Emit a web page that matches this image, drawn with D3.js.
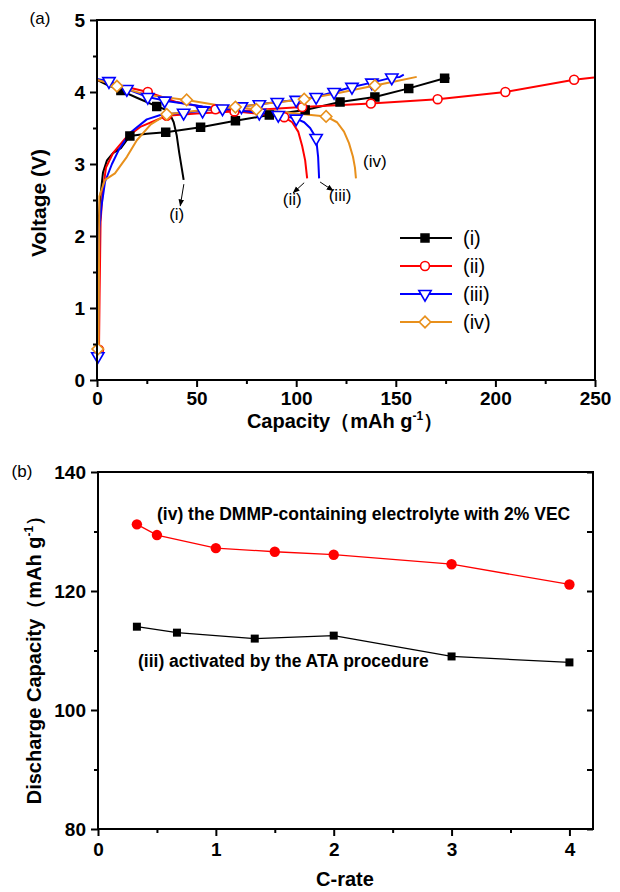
<!DOCTYPE html>
<html>
<head>
<meta charset="utf-8">
<script src="https://cdn.jsdelivr.net/npm/d3@7"></script>
<style>
  body { margin: 0; background: #fff; }
  svg { font-family: "Liberation Sans", Arial, sans-serif; }
</style>
</head>
<body>
<div id="chart"></div>
<script>
// (a) charge / discharge curves, points are [capacity, voltage, marker]
const chargeI = [[0,1.8],[0.5,2.05],[1.5,2.5],[3,2.88],[5,3.05],[8,3.15],[12,3.22],[16.5,3.39,1],[25,3.42],[34.5,3.44,1],[52,3.51,1],[69.5,3.6,1],[86.5,3.68,1],[104.5,3.75,1],[122,3.86,1],[139.5,3.93,1],[156.5,4.05,1],[174.5,4.19,1],[177,4.19]];
const dischargeI = [[0,4.17],[5,4.1],[12,4.02,1],[20,3.92],[30,3.8,1],[34,3.76],[36.5,3.7],[38.5,3.58],[40,3.4],[41.3,3.15],[42.5,2.95],[43.5,2.78]];

const chargeII = [[0,0.3],[1,0.42,1],[1.3,1.2],[1.8,2.2],[2.8,2.6],[4.5,2.95],[8,3.15],[14,3.35],[22,3.52],[35,3.67,1],[50,3.7],[69,3.73,1],[85,3.76],[103,3.79,1],[137.5,3.84,1],[171,3.9,1],[205,4.0,1],[239.5,4.17,1],[249.5,4.2]];
const dischargeII = [[0,4.17],[10,4.1],[25.5,4.0,1],[40,3.86],[59.5,3.76,1],[80,3.7],[94,3.65,1],[98,3.58],[101,3.45],[103,3.25],[104.5,3.05],[105.5,2.8]];

const chargeIII = [[0,0.28],[0.4,0.33,1],[0.8,1.2],[1.2,2.1],[2.2,2.4],[4,2.75],[7.5,3.0],[11,3.2],[16.5,3.43],[25,3.62],[33,3.69],[43.5,3.71,1],[53,3.74,1],[63,3.77,1],[72.5,3.8,1],[81.5,3.83,1],[90.5,3.86,1],[100,3.89,1],[110,3.93,1],[119,4.0,1],[128,4.07,1],[138,4.13,1],[148,4.2,1],[152,4.21],[154,4.24]];
const dischargeIII = [[0,4.18],[6,4.15,1],[15,4.04,1],[25.5,3.93,1],[34,3.88,1],[43.5,3.84],[53,3.8],[62.5,3.77],[72,3.74],[81.5,3.71,1],[91,3.68,1],[100,3.63,1],[104,3.58],[107,3.5],[110,3.36,1],[111,3.1],[111.5,2.8]];

const chargeIV = [[0,0.35],[0.4,0.43,1],[0.8,0.45],[1,1.5],[1.2,2.55],[4,2.78],[9,2.87],[15,3.1],[20,3.33],[27,3.55],[35,3.69,1],[50,3.74],[69.5,3.79,1],[85,3.84],[104,3.9,1],[120,3.98],[139.5,4.09,1],[150,4.15],[160.5,4.21]];
const dischargeIV = [[0,4.17],[5,4.13],[10,4.08,1],[25,3.96],[45,3.89,1],[60,3.82],[80,3.76,1],[100,3.7],[115,3.66,1],[120.5,3.58],[124,3.45],[126.5,3.29],[128.5,3.1],[129.5,2.95],[130,2.8]];

const seriesNames = ['(i)', '(ii)', '(iii)', '(iv)'];
const capTicks = [0, 50, 100, 150, 200, 250], capMinor = [25, 75, 125, 175, 225];
const voltTicks = [0, 1, 2, 3, 4, 5], voltMinor = [0.5, 1.5, 2.5, 3.5, 4.5];

// (b) discharge capacity vs C-rate
const rateIV = [0.33, 0.5, 1, 1.5, 2, 3, 4];
const capacityIV = [131.2, 129.4, 127.2, 126.6, 126.1, 124.5, 121.1];
const rateIII = [0.33, 0.67, 1.33, 2, 3, 4];
const capacityIII = [114.0, 113.0, 112.0, 112.5, 109.0, 108.0];
const rateTicks = [0, 1, 2, 3, 4], rateMinor = [0.5, 1.5, 2.5, 3.5];
const dcTicks = [80, 100, 120, 140], dcMinor = [90, 110, 130];

const svg = d3.select('#chart').append('svg')
    .attr('width', 620)
    .attr('height', 892);

// arrow head for the annotations
svg.append('defs').append('marker')
    .attr('id', 'arrow')
    .attr('viewBox', '0 0 10 10')
    .attr('refX', 9).attr('refY', 5)
    .attr('markerWidth', 7).attr('markerHeight', 7)
    .attr('orient', 'auto')
    .append('path')
    .attr('d', 'M0,1L10,5L0,9Z')
    .attr('fill', '#000');

function sym(shape) {
    if (shape === 'square') return d3.symbol(d3.symbolSquare, 62)();
    if (shape === 'circle') return d3.symbol(d3.symbolCircle, 62)();
    if (shape === 'triangle') return d3.symbol(d3.symbolTriangle, 66)();
    return d3.symbol(d3.symbolSquare, 66)(); // diamond = rotated square
}
function symRotate(shape) {
    return shape === 'triangle' ? 180 : shape === 'diamond' ? 45 : 0;
}

// axes with major/minor ticks + box frame
function drawFrame(g, x, y, opt) {
    let [x0, x1] = x.range(), [y0, y1] = y.range();

    let ax = g.append('g').attr('transform', `translate(0,${y0})`);
    ax.call(d3.axisBottom(x).tickValues(opt.xTicks).tickSize(7).tickPadding(opt.xPad).tickFormat(d3.format('d')));
    let axm = g.append('g').attr('transform', `translate(0,${y0})`)
        .call(d3.axisBottom(x).tickValues(opt.xMinor).tickSize(4).tickFormat(''));

    let ay = g.append('g').attr('transform', `translate(${x0},0)`);
    ay.call(d3.axisLeft(y).tickValues(opt.yTicks).tickSize(7).tickPadding(5).tickFormat(d3.format('d')));
    let aym = g.append('g').attr('transform', `translate(${x0},0)`)
        .call(d3.axisLeft(y).tickValues(opt.yMinor).tickSize(4).tickFormat(''));

    [ax, ay].forEach(a => a.selectAll('text')
        .style('font-size', '19px').style('font-weight', 'bold').attr('fill', '#000'));
    [ax, axm, ay, aym].forEach(a => {
        a.select('.domain').remove();
        a.selectAll('line').attr('stroke', '#000').attr('stroke-width', 2);
    });

    if (opt.rightTicks) {
        g.append('g').attr('transform', `translate(${x1},0)`)
            .call(d3.axisLeft(y).tickValues(opt.yTicks.concat(opt.yMinor)).tickSize(6).tickFormat(''))
            .call(a => a.select('.domain').remove())
            .selectAll('line').attr('stroke', '#000').attr('stroke-width', 2);
    }

    g.append('rect')
        .attr('x', x0).attr('y', y1)
        .attr('width', x1 - x0).attr('height', y0 - y1)
        .attr('fill', 'none').attr('stroke', '#000').attr('stroke-width', 2);
}

function unitTitle(g, label, x, y, rotate) {
    let t = g.append('text')
        .attr('transform', `translate(${x},${y})` + (rotate ? 'rotate(-90)' : ''))
        .attr('text-anchor', 'middle')
        .style('font-size', '20px').style('font-weight', 'bold');
    t.append('tspan').text(label + '（mAh g');
    t.append('tspan').attr('dy', -8).style('font-size', '12px').text('-1');
    t.append('tspan').attr('dy', 8).text('）');
    return t;
}

// ---------- panel (a) ----------
const xA = d3.scaleLinear([0, 250], [97, 595]);
const yA = d3.scaleLinear([0, 5], [380, 20]);
const gA = svg.append('g');

const seriesA = [
    { name: seriesNames[0], color: '#000000', shape: 'square', filled: true, curves: [chargeI, dischargeI] },
    { name: seriesNames[1], color: '#FF0000', shape: 'circle', filled: false, curves: [chargeII, dischargeII] },
    { name: seriesNames[2], color: '#0000FF', shape: 'triangle', filled: false, curves: [chargeIII, dischargeIII] },
    { name: seriesNames[3], color: '#E8901C', shape: 'diamond', filled: false, curves: [chargeIV, dischargeIV] }
];

const lineA = d3.line().x(d => xA(d[0])).y(d => yA(d[1]));

seriesA.forEach(s => {
    s.curves.forEach(c => {
        gA.append('path')
            .attr('d', lineA(c))
            .attr('fill', 'none')
            .attr('stroke', s.color)
            .attr('stroke-width', 2)
            .attr('stroke-linejoin', 'round');
    });
});
seriesA.forEach(s => {
    let pts = s.curves.flat().filter(d => d[2]);
    gA.selectAll(null).data(pts).join('path')
        .attr('d', sym(s.shape))
        .attr('transform', d => `translate(${xA(d[0])},${yA(d[1])})rotate(${symRotate(s.shape)})`)
        .attr('fill', s.filled ? s.color : '#fff')
        .attr('stroke', s.color)
        .attr('stroke-width', 1.6);
});

drawFrame(gA, xA, yA, { xTicks: capTicks, xMinor: capMinor, yTicks: voltTicks, yMinor: voltMinor, xPad: 5 });

// annotations at the end of each discharge curve
const notes = [
    { text: '(i)', at: [40, 2.22], from: [43.6, 2.72], to: [41.8, 2.42] },
    { text: '(ii)', at: [98, 2.43], from: [104, 2.74], to: [98.5, 2.6] },
    { text: '(iii)', at: [122, 2.49], from: [112, 2.75], to: [118.5, 2.63] },
    { text: '(iv)', at: [139.5, 2.96] }
];
notes.forEach(n => {
    if (n.from) {
        gA.append('line')
            .attr('x1', xA(n.from[0])).attr('y1', yA(n.from[1]))
            .attr('x2', xA(n.to[0])).attr('y2', yA(n.to[1]))
            .attr('stroke', '#000').attr('stroke-width', 1)
            .attr('marker-end', 'url(#arrow)');
    }
    gA.append('text')
        .attr('x', xA(n.at[0])).attr('y', yA(n.at[1]))
        .attr('text-anchor', 'middle')
        .style('font-size', '17px')
        .text(n.text);
});

// legend
const legend = gA.append('g').attr('transform', 'translate(400,238)');
seriesA.forEach((s, i) => {
    let row = legend.append('g').attr('transform', `translate(0,${i * 28})`);
    row.append('line').attr('x1', 0).attr('x2', 52)
        .attr('stroke', s.color).attr('stroke-width', 2);
    row.append('path')
        .attr('d', sym(s.shape))
        .attr('transform', `translate(25,0)rotate(${symRotate(s.shape)})`)
        .attr('fill', s.filled ? s.color : '#fff')
        .attr('stroke', s.color).attr('stroke-width', 1.6);
    row.append('text').attr('x', 63).attr('dy', '0.35em')
        .style('font-size', '20px').text(s.name);
});

gA.append('text').attr('x', 40).attr('y', 24).attr('text-anchor', 'middle')
    .style('font-size', '17px').text('(a)');
gA.append('text')
    .attr('transform', 'translate(46,203)rotate(-90)')
    .attr('text-anchor', 'middle')
    .style('font-size', '21px').style('font-weight', 'bold')
    .text('Voltage (V)');
unitTitle(gA, 'Capacity', 345, 428, false);

// ---------- panel (b) ----------
const xB = d3.scaleLinear([0, 4.2], [98, 593]);
const yB = d3.scaleLinear([80, 140], [829, 472]);
const gB = svg.append('g');

const seriesB = [
    { x: rateIV, y: capacityIV, color: '#FF0000', shape: 'circle' },
    { x: rateIII, y: capacityIII, color: '#000000', shape: 'square' }
];
seriesB.forEach(s => {
    let pts = s.x.map((d, i) => [d, s.y[i]]);
    gB.append('path')
        .attr('d', d3.line().x(d => xB(d[0])).y(d => yB(d[1]))(pts))
        .attr('fill', 'none').attr('stroke', s.color).attr('stroke-width', 1.3);
    gB.selectAll(null).data(pts).join('path')
        .attr('d', s.shape === 'circle' ? d3.symbol(d3.symbolCircle, 85)() : d3.symbol(d3.symbolSquare, 64)())
        .attr('transform', d => `translate(${xB(d[0])},${yB(d[1])})`)
        .attr('fill', s.color);
});

drawFrame(gB, xB, yB, { xTicks: rateTicks, xMinor: rateMinor, yTicks: dcTicks, yMinor: dcMinor, xPad: 7, rightTicks: true });

gB.append('text').attr('x', 157).attr('y', 520)
    .style('font-size', '17.5px').style('font-weight', 'bold')
    .text('(iv) the DMMP-containing electrolyte with 2% VEC');
gB.append('text').attr('x', 138).attr('y', 667)
    .style('font-size', '17.5px').style('font-weight', 'bold')
    .text('(iii) activated by the ATA procedure');

gB.append('text').attr('x', 22).attr('y', 477).attr('text-anchor', 'middle')
    .style('font-size', '17px').text('(b)');
unitTitle(gB, 'Discharge Capacity', 41, 655, true);
gB.append('text').attr('x', 345).attr('y', 886).attr('text-anchor', 'middle')
    .style('font-size', '20px').style('font-weight', 'bold')
    .text('C-rate');
</script>
</body>
</html>
